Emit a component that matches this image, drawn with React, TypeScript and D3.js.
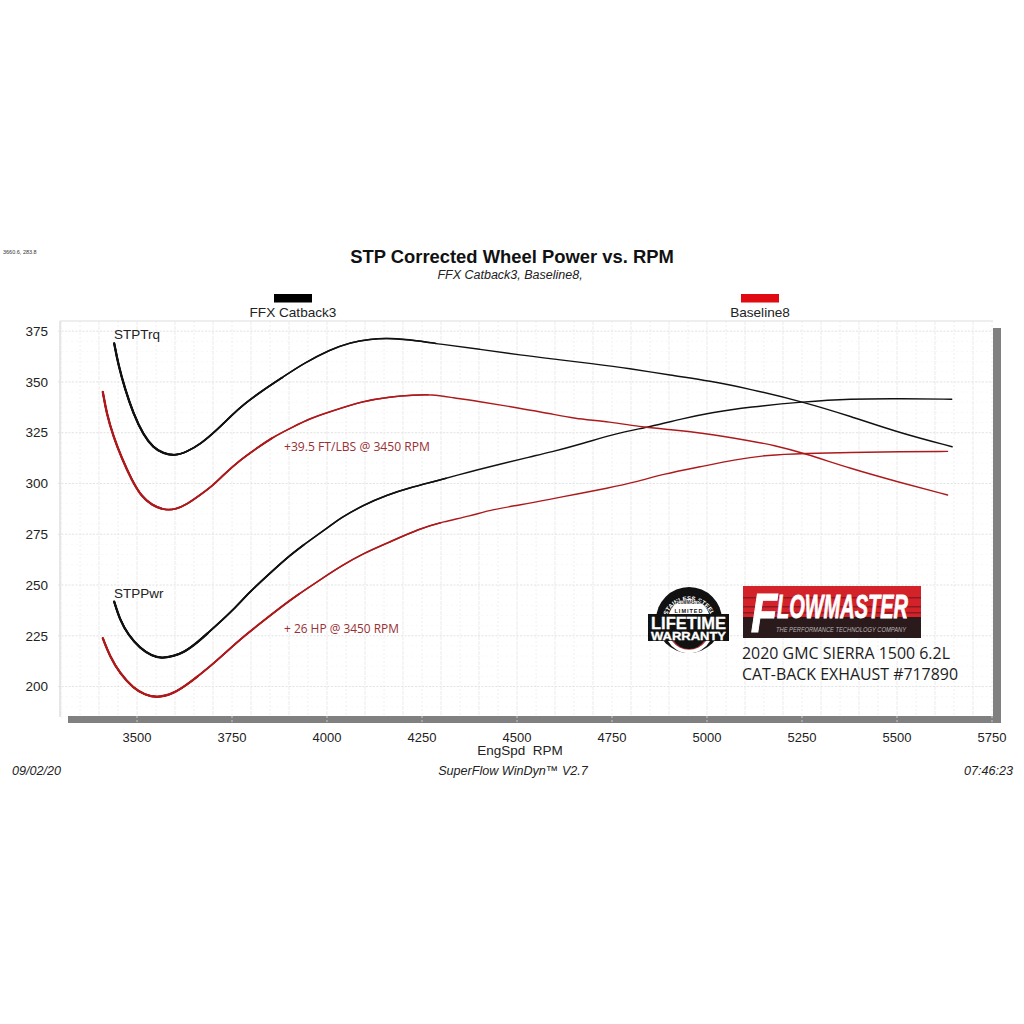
import React from "react";
import * as d3 from "d3";

const width = 1024;
const height = 1024;

// rpm / value pairs
const trqFfxRpm = [3440, 3451, 3468, 3490, 3517, 3543, 3569, 3600, 3631, 3666, 3710, 3745, 3780, 3832, 3885, 3938, 4008, 4060, 4113, 4166, 4236, 4297, 4403, 4508, 4613, 4692, 4797, 4903, 5008, 5113, 5253, 5376, 5508, 5645];
const trqFfx = [369, 358.3, 346.8, 334.5, 323.8, 317.6, 314.8, 313.6, 315.6, 319.2, 326.3, 332.8, 338.9, 346, 352.5, 359.1, 365.9, 369.4, 371.1, 371.6, 370.4, 368.6, 366.1, 363.2, 360.9, 359.1, 356.6, 353.3, 350.5, 346.5, 340.2, 333.2, 324.8, 318.1];

const trqBaseRpm = [3410, 3420, 3438, 3460, 3486, 3512, 3539, 3569, 3600, 3631, 3666, 3701, 3727, 3771, 3815, 3859, 3911, 3955, 4008, 4095, 4166, 4227, 4275, 4332, 4394, 4508, 4587, 4648, 4745, 4832, 4903, 4990, 5113, 5174, 5258, 5376, 5508, 5633];
const trqBase = [345.1, 334.5, 323, 312.4, 301.7, 293.5, 289.4, 287, 287, 289.7, 294.3, 299.2, 304.1, 311.5, 317.3, 323, 327.9, 332, 335.3, 340.6, 342.7, 343.5, 343.9, 342.2, 340.6, 337, 334.4, 332, 330.4, 327.6, 326.6, 324.8, 321, 318.9, 314.8, 307.4, 300.5, 294.3];

const pwrFfxRpm = [3440, 3455, 3477, 3508, 3539, 3565, 3596, 3622, 3657, 3710, 3753, 3797, 3850, 3903, 3955, 4008, 4034, 4096, 4157, 4218, 4289, 4376, 4455, 4534, 4587, 4674, 4762, 4850, 4938, 5008, 5113, 5253, 5376, 5508, 5644];
const pwrFfx = [241.8, 232.8, 225.4, 218.8, 215.1, 213.8, 215, 216.7, 221.3, 230.3, 237.7, 246.7, 255.8, 264.8, 272.1, 279, 282.8, 289.4, 294.3, 297.9, 301.3, 305.8, 309.5, 313.1, 315.3, 319.7, 324.7, 327.9, 332, 334.8, 337.7, 340.2, 341.7, 341.8, 341.5];

const pwrBaseRpm = [3410, 3429, 3455, 3490, 3521, 3552, 3596, 3639, 3692, 3736, 3780, 3841, 3903, 3955, 4008, 4034, 4096, 4157, 4245, 4306, 4376, 4438, 4508, 4587, 4657, 4736, 4815, 4885, 4982, 5078, 5157, 5258, 5376, 5508, 5633];
const pwrBase = [223.8, 214.7, 206.5, 199.2, 195.9, 194.4, 196.4, 201.9, 209.8, 217.2, 224.6, 233.6, 242.6, 249.2, 255.8, 259, 265.6, 270.5, 277.9, 281.1, 284, 287.3, 289.4, 292.2, 294.8, 297.6, 300.8, 304.6, 308.2, 311.9, 314, 314.8, 315.3, 315.6, 315.8];

const xTickLabels = [3500, 3750, 4000, 4250, 4500, 4750, 5000, 5250, 5500, 5750];
const yTickLabels = [200, 225, 250, 275, 300, 325, 350, 375];
const legendNames = ["FFX Catback3", "Baseline8"];

const BLACK = "#111111";
const RED = "#ad1a1c";
const NOTE_RED = "#993034";
const SANS = "'Liberation Sans', Arial, sans-serif";
const NOTE = "'Open Sans', sans-serif";

const x = d3.scaleLinear().domain([3300, 5750]).range([61, 992]);
const y = d3.scaleLinear().domain([185, 380]).range([717, 321]);

const vGrid = d3.range(3300, 5751, 50);
const hGridMinor = d3.range(185, 380, 5);

const makeLine = (rpm: number[], vals: number[]) =>
  d3
    .line<number>()
    .x((d) => x(d))
    .y((_, i) => y(vals[i]))
    .curve(d3.curveBasis)(rpm) as string;

const series = [
  { rpm: trqFfxRpm, vals: trqFfx, color: BLACK },
  { rpm: pwrFfxRpm, vals: pwrFfx, color: BLACK },
  { rpm: trqBaseRpm, vals: trqBase, color: RED },
  { rpm: pwrBaseRpm, vals: pwrBase, color: RED },
];

// the traces get thinner toward high rpm: same path, shorter dash, heavier stroke
const taper = [
  { share: 100, w: 1.4 },
  { share: 45, w: 1.55 },
  { share: 28, w: 1.85 },
  { share: 14, w: 2.3 },
];

const Badge = () => (
  <g>
    <circle cx={689} cy={620} r={33} fill="#111" />
    <circle cx={689} cy={620} r={21} fill="#fff" />
    <path d="M 668 641 A 24 24 0 0 0 710 641 Z" fill="#fff" />
    <path d="M 672 641 A 21 21 0 0 0 706 641 Z" fill="#a8333a" />
    <path d="M 674 641 A 18 18 0 0 0 704 641 Z" fill="#111" />
    <defs>
      <path id="badgeArc" d="M 665.5 622 A 23.6 23.6 0 0 1 712.5 622" />
    </defs>
    <text fontFamily={SANS} fontSize={6.2} fontWeight="bold" fill="#fff">
      <textPath href="#badgeArc" startOffset="50%" textAnchor="middle">
        STAINLESS STEEL
      </textPath>
    </text>
    <text x={689} y={604} textAnchor="middle" fontFamily={SANS} fontSize={6} fontWeight="bold" fontStyle="italic" fill="#111" textLength={26} lengthAdjust="spacingAndGlyphs">
      FLOWMASTER
    </text>
    <text x={689} y={612.5} textAnchor="middle" fontFamily={SANS} fontSize={5.5} fontWeight="bold" fill="#111" letterSpacing={1}>
      LIMITED
    </text>
    <rect x={648} y={614} width={81} height={27} fill="#111" />
    <text x={688.5} y={629} textAnchor="middle" fontFamily={SANS} fontSize={16} fontWeight="bold" fill="#fff" stroke="#fff" strokeWidth={0.3} textLength={75} lengthAdjust="spacingAndGlyphs">
      LIFETIME
    </text>
    <text x={688.5} y={640} textAnchor="middle" fontFamily={SANS} fontSize={10.5} fontWeight="bold" fill="#fff" stroke="#fff" strokeWidth={0.3} textLength={75} lengthAdjust="spacingAndGlyphs">
      WARRANTY
    </text>
  </g>
);

const Logo = () => (
  <g>
    <rect x={743} y={586} width={178} height={31} fill="#d3222a" />
    <rect x={743} y={617} width={178} height={21} fill="#2b1a1c" />
    <rect x={743} y={597} width={178} height={1.5} fill="#8e1a20" />
    <rect x={743} y={606} width={178} height={1.5} fill="#8e1a20" />
    <rect x={743} y={612} width={178} height={1.5} fill="#8e1a20" />
    <text x={751} y={632} fontFamily={SANS} fontSize={56} fontWeight="bold" fontStyle="italic" fill="#fff" stroke="#fff" strokeWidth={1.2} textLength={26} lengthAdjust="spacingAndGlyphs">
      F
    </text>
    <text x={777} y={618} fontFamily={SANS} fontSize={33} fontWeight="bold" fontStyle="italic" fill="#fff" stroke="#fff" strokeWidth={0.8} textLength={131} lengthAdjust="spacingAndGlyphs">
      LOWMASTER
    </text>
    <text x={776} y={632} fontFamily={SANS} fontSize={7.5} fontStyle="italic" fill="#b9b4b4" textLength={130} lengthAdjust="spacingAndGlyphs">
      THE PERFORMANCE TECHNOLOGY COMPANY
    </text>
  </g>
);

export default function App() {
  return (
    <svg
      width={width}
      height={height}
      style={{ position: "absolute", left: 0, top: 0, background: "#fff" }}
    >
      <text x={3} y={254} fontFamily={SANS} fontSize={5.5} fill="#333">
        3660.6, 283.8
      </text>

      {/* titles */}
      <text x={512} y={263} textAnchor="middle" fontFamily={SANS} fontSize={18.4} fontWeight="bold" fill="#111">
        STP Corrected Wheel Power vs. RPM
      </text>
      <text x={510} y={279} textAnchor="middle" fontFamily={SANS} fontSize={12.5} fontStyle="italic" fill="#222">
        FFX Catback3, Baseline8,
      </text>

      {/* legend */}
      <rect x={274} y={294} width={38} height={8.5} fill="#000" />
      <text x={293} y={317} textAnchor="middle" fontFamily={SANS} fontSize={13.6} fill="#222">
        {legendNames[0]}
      </text>
      <rect x={741} y={294} width={38} height={8.5} fill="#e00b12" />
      <text x={760} y={317} textAnchor="middle" fontFamily={SANS} fontSize={13.6} fill="#222">
        {legendNames[1]}
      </text>

      {/* grid */}
      {hGridMinor.map((v) => (
        <line key={v} x1={61} x2={992} y1={y(v)} y2={y(v)} stroke="#f5f5f5" strokeWidth={0.7} strokeDasharray="2 3" />
      ))}
      {vGrid.map((v, i) => (
        <line
          key={v}
          x1={x(v)}
          x2={x(v)}
          y1={321}
          y2={717}
          stroke={i % 2 === 0 ? "#ebebeb" : "#f0f0f0"}
          strokeWidth={1}
          strokeDasharray={i % 2 === 0 ? "4 1" : "2 2"}
        />
      ))}
      {yTickLabels.map((v) => (
        <line key={v} x1={58} x2={992} y1={y(v)} y2={y(v)} stroke="#e4e4e4" strokeWidth={1} strokeDasharray="2 1.5" />
      ))}

      {/* frame */}
      <line x1={60} x2={60} y1={321} y2={717} stroke="#dfdfdf" strokeWidth={1.5} />
      <line x1={60} x2={993} y1={321} y2={321} stroke="#e8e8e8" strokeWidth={1.5} />
      <rect x={993} y={328} width={8} height={395} fill="#808080" />
      <rect x={68} y={716} width={933} height={7} fill="#808080" />
      {xTickLabels.map((v) => (
        <line key={v} x1={x(v)} x2={x(v)} y1={716} y2={723} stroke="#c8c8c8" strokeWidth={1} strokeDasharray="2 2" />
      ))}

      {/* tick labels */}
      {yTickLabels.map((v) => (
        <text key={v} x={48} y={y(v) + 4.8} textAnchor="end" fontFamily={SANS} fontSize={13.5} fill="#222">
          {v}
        </text>
      ))}
      {xTickLabels.map((v) => (
        <text key={v} x={x(v)} y={742} textAnchor="middle" fontFamily={SANS} fontSize={13} fill="#222">
          {v}
        </text>
      ))}
      <text x={520} y={755} textAnchor="middle" fontFamily={SANS} fontSize={13.5} fill="#222" xmlSpace="preserve">
        EngSpd  RPM
      </text>

      {/* traces */}
      {series.map((s, i) => (
        <g key={i} fill="none" stroke={s.color} strokeLinecap="round" strokeLinejoin="round">
          {taper.map((t) => (
            <path
              key={t.share}
              d={makeLine(s.rpm, s.vals)}
              pathLength={100}
              strokeWidth={t.w}
              strokeDasharray={t.share === 100 ? undefined : `${t.share} 200`}
            />
          ))}
        </g>
      ))}

      <text x={114} y={339} fontFamily={SANS} fontSize={13.5} fill="#222">
        STPTrq
      </text>
      <text x={114} y={598} fontFamily={SANS} fontSize={13.5} fill="#222">
        STPPwr
      </text>
      <text x={284} y={451} fontFamily={NOTE} fontSize={12} fill={NOTE_RED} textLength={146} lengthAdjust="spacingAndGlyphs">
        +39.5 FT/LBS @ 3450 RPM
      </text>
      <text x={284} y={633} fontFamily={NOTE} fontSize={12} fill={NOTE_RED} textLength={115} lengthAdjust="spacingAndGlyphs">
        + 26 HP @ 3450 RPM
      </text>

      <Badge />
      <Logo />
      <text x={742} y={659} fontFamily={NOTE} fontSize={16.5} fill="#1c1c1c" textLength={208} lengthAdjust="spacingAndGlyphs">
        2020 GMC SIERRA 1500 6.2L
      </text>
      <text x={742} y={680} fontFamily={NOTE} fontSize={16.5} fill="#1c1c1c" textLength={216} lengthAdjust="spacingAndGlyphs">
        CAT-BACK EXHAUST #717890
      </text>

      {/* footer */}
      <text x={12} y={775} fontFamily={SANS} fontSize={12.6} fontStyle="italic" fill="#222">
        09/02/20
      </text>
      <text x={513} y={775} textAnchor="middle" fontFamily={SANS} fontSize={12.6} fontStyle="italic" fill="#222">
        SuperFlow WinDyn™ V2.7
      </text>
      <text x={1013} y={775} textAnchor="end" fontFamily={SANS} fontSize={12.6} fontStyle="italic" fill="#222">
        07:46:23
      </text>
    </svg>
  );
}
